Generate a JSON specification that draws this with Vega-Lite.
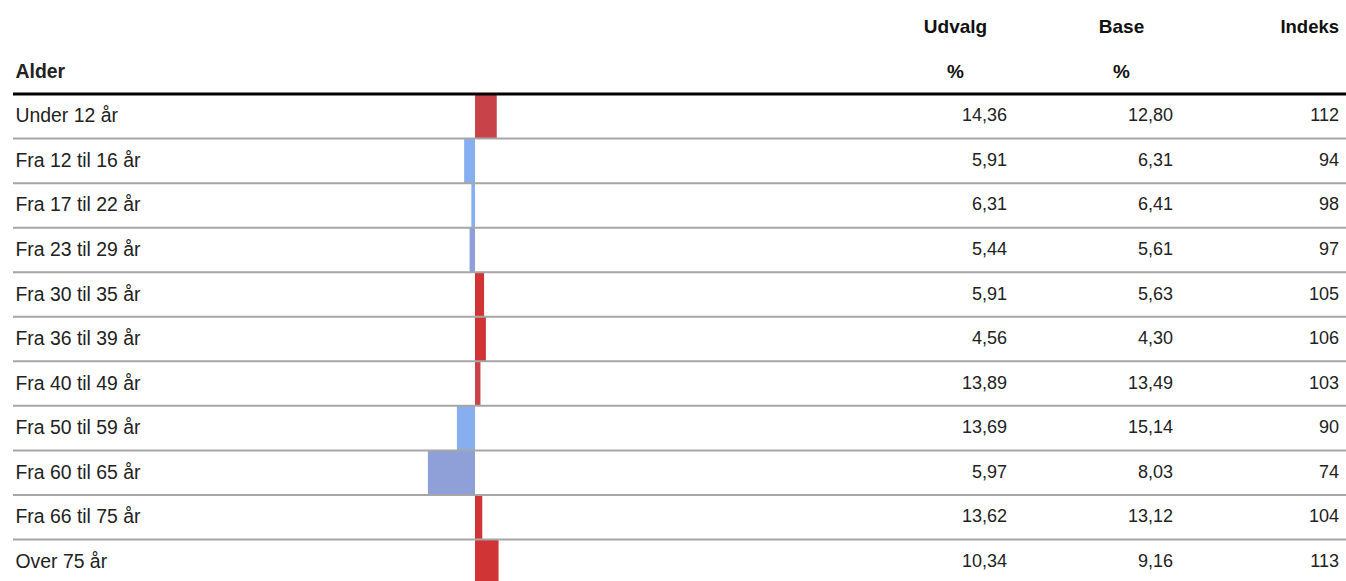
{
  "$schema": "https://vega.github.io/schema/vega-lite/v6.json",
  "padding": {"left": 11, "top": 5, "right": 0, "bottom": 0},
  "spacing": 0,
  "bounds": "flush",
  "config": {
    "view": {"stroke": null},
    "font": "Liberation Sans",
    "locale": {"number": {"decimal": ",", "thousands": ".", "grouping": [3], "currency": ["", " kr."]}}
  },
  "datasets": {
    "rows": [
      {"Alder": "Under 12 år", "Udvalg": 14.36, "Base": 12.80, "Indeks": 112, "gruppe": "over_a"},
      {"Alder": "Fra 12 til 16 år", "Udvalg": 5.91, "Base": 6.31, "Indeks": 94, "gruppe": "under_a"},
      {"Alder": "Fra 17 til 22 år", "Udvalg": 6.31, "Base": 6.41, "Indeks": 98, "gruppe": "under_a"},
      {"Alder": "Fra 23 til 29 år", "Udvalg": 5.44, "Base": 5.61, "Indeks": 97, "gruppe": "under_b"},
      {"Alder": "Fra 30 til 35 år", "Udvalg": 5.91, "Base": 5.63, "Indeks": 105, "gruppe": "over_b"},
      {"Alder": "Fra 36 til 39 år", "Udvalg": 4.56, "Base": 4.30, "Indeks": 106, "gruppe": "over_b"},
      {"Alder": "Fra 40 til 49 år", "Udvalg": 13.89, "Base": 13.49, "Indeks": 103, "gruppe": "over_a"},
      {"Alder": "Fra 50 til 59 år", "Udvalg": 13.69, "Base": 15.14, "Indeks": 90, "gruppe": "under_a"},
      {"Alder": "Fra 60 til 65 år", "Udvalg": 5.97, "Base": 8.03, "Indeks": 74, "gruppe": "under_b"},
      {"Alder": "Fra 66 til 75 år", "Udvalg": 13.62, "Base": 13.12, "Indeks": 104, "gruppe": "over_b"},
      {"Alder": "Over 75 år", "Udvalg": 10.34, "Base": 9.16, "Indeks": 113, "gruppe": "over_b"}
    ],
    "headers": [
      {"kolonne": "Udvalg", "Alder": "h1", "tekst": "Udvalg"},
      {"kolonne": "Udvalg", "Alder": "h2", "tekst": "%"},
      {"kolonne": "Base", "Alder": "h1", "tekst": "Base"},
      {"kolonne": "Base", "Alder": "h2", "tekst": "%"},
      {"kolonne": "Indeks", "Alder": "h1", "tekst": "Indeks"}
    ]
  },
  "hconcat": [
    {
      "width": 828,
      "height": 579,
      "data": {"name": "rows"},
      "layer": [
        {
          "mark": {"type": "bar"},
          "encoding": {
            "y": {
              "field": "Alder", "type": "nominal",
              "scale": {"type": "band", "domain": ["h1", "h2", "Under 12 år", "Fra 12 til 16 år", "Fra 17 til 22 år", "Fra 23 til 29 år", "Fra 30 til 35 år", "Fra 36 til 39 år", "Fra 40 til 49 år", "Fra 50 til 59 år", "Fra 60 til 65 år", "Fra 66 til 75 år", "Over 75 år"], "paddingInner": 0, "paddingOuter": 0},
              "axis": {
                "orient": "left", "domain": false, "ticks": false, "tickSize": 0, "grid": false,
                "minExtent": 0, "maxExtent": 0, "offset": 0,
                "labelAlign": "left", "labelPadding": -2, "labelFontSize": 19.4, "labelColor": "#222222",
                "labelLimit": 0, "labelFont": "Liberation Sans",
                "labelExpr": "datum.value === 'h1' ? '' : (datum.value === 'h2' ? 'Alder' : datum.value)",
                "labelFontWeight": {"condition": {"test": "datum.value === 'h2'", "value": "bold"}, "value": "normal"},
                "title": null
              }
            },
            "x": {"field": "Indeks", "type": "quantitative", "scale": {"domain": [-155, 302], "nice": false, "zero": false}, "axis": null},
            "x2": {"datum": 100},
            "color": {
              "field": "gruppe", "type": "nominal",
              "scale": {"domain": ["over_a", "over_b", "under_a", "under_b"], "range": ["#c8424a", "#d03434", "#87aeee", "#8fa0d8"]},
              "legend": null
            }
          }
        },
        {
          "mark": {"type": "rule", "color": "#a6a6a6", "strokeWidth": 2},
          "encoding": {"y": {"field": "Alder", "type": "nominal", "bandPosition": 1}}
        },
        {
          "transform": [{"filter": "datum.Alder === 'Under 12 år'"}],
          "mark": {"type": "rule", "color": "#000000", "strokeWidth": 3},
          "encoding": {"y": {"field": "Alder", "type": "nominal", "bandPosition": 0}}
        }
      ]
    },
    {
      "width": 505,
      "height": 579,
      "layer": [
        {
          "data": {"name": "rows"},
          "transform": [{"fold": ["Udvalg", "Base"], "as": ["kolonne", "vaerdi"]}],
          "mark": {"type": "text", "align": "right", "baseline": "middle", "fontSize": 18, "color": "#222222"},
          "encoding": {
            "x": {"field": "kolonne", "type": "nominal", "bandPosition": 1},
            "y": {"field": "Alder", "type": "nominal", "bandPosition": 0.5},
            "text": {"field": "vaerdi", "type": "quantitative", "format": ".2f"}
          }
        },
        {
          "data": {"name": "rows"},
          "mark": {"type": "text", "align": "right", "baseline": "middle", "fontSize": 18, "color": "#222222"},
          "encoding": {
            "x": {"datum": "Indeks", "type": "nominal", "bandPosition": 1},
            "y": {"field": "Alder", "type": "nominal", "bandPosition": 0.5},
            "text": {"field": "Indeks", "type": "quantitative", "format": "d"}
          }
        },
        {
          "data": {"name": "rows"},
          "mark": {"type": "rule", "color": "#a6a6a6", "strokeWidth": 2},
          "encoding": {"y": {"field": "Alder", "type": "nominal", "bandPosition": 1}}
        },
        {
          "data": {"name": "rows"},
          "transform": [{"filter": "datum.Alder === 'Under 12 år'"}],
          "mark": {"type": "rule", "color": "#000000", "strokeWidth": 3},
          "encoding": {"y": {"field": "Alder", "type": "nominal", "bandPosition": 0}}
        },
        {
          "data": {"name": "headers"},
          "transform": [{"filter": "datum.kolonne !== 'Indeks'"}],
          "mark": {"type": "text", "align": "center", "baseline": "middle", "fontSize": 19, "fontWeight": "bold", "color": "#111111"},
          "encoding": {
            "x": {"field": "kolonne", "type": "nominal", "bandPosition": 0.69},
            "y": {"field": "Alder", "type": "nominal", "bandPosition": 0.5},
            "text": {"field": "tekst", "type": "nominal"}
          }
        },
        {
          "data": {"name": "headers"},
          "transform": [{"filter": "datum.kolonne === 'Indeks'"}],
          "mark": {"type": "text", "align": "right", "baseline": "middle", "fontSize": 18.5, "fontWeight": "bold", "color": "#111111"},
          "encoding": {
            "x": {"field": "kolonne", "type": "nominal", "bandPosition": 1},
            "y": {"field": "Alder", "type": "nominal", "bandPosition": 0.5},
            "text": {"field": "tekst", "type": "nominal"}
          }
        }
      ],
      "encoding": {
        "x": {"scale": {"type": "band", "domain": ["Udvalg", "Base", "Indeks"], "paddingInner": 0, "paddingOuter": 0.0211, "align": 0}, "axis": null},
        "y": {
          "scale": {"type": "band", "domain": ["h1", "h2", "Under 12 år", "Fra 12 til 16 år", "Fra 17 til 22 år", "Fra 23 til 29 år", "Fra 30 til 35 år", "Fra 36 til 39 år", "Fra 40 til 49 år", "Fra 50 til 59 år", "Fra 60 til 65 år", "Fra 66 til 75 år", "Over 75 år"], "paddingInner": 0, "paddingOuter": 0},
          "axis": null
        }
      }
    }
  ]
}
